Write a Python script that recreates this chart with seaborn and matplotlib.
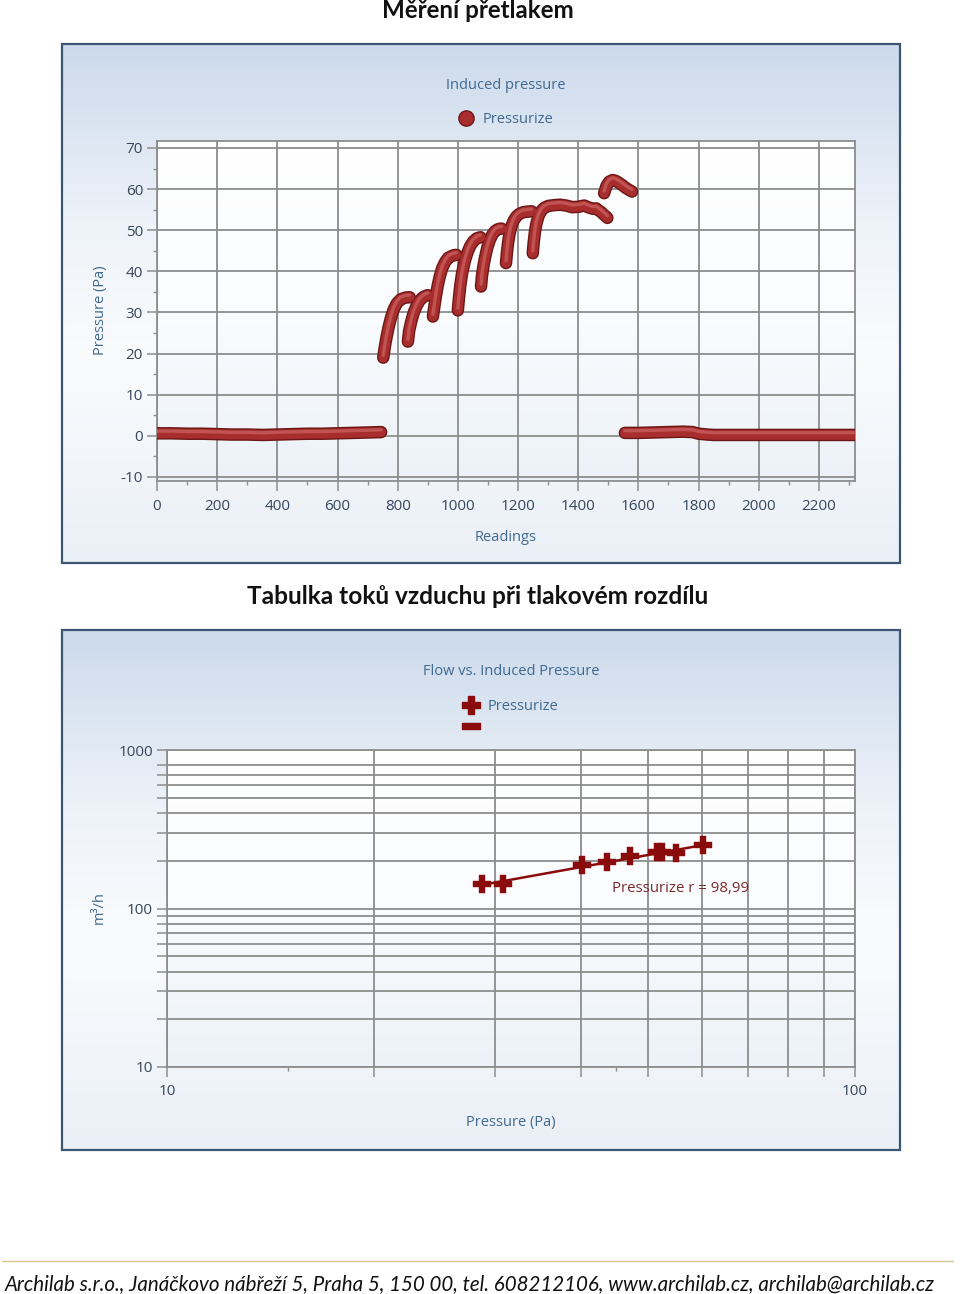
import numpy as np
import pandas as pd
import matplotlib
matplotlib.use("Agg")
import matplotlib.pyplot as plt
from matplotlib.lines import Line2D
from matplotlib.patches import Rectangle
from matplotlib.ticker import FixedLocator, FixedFormatter, NullLocator, NullFormatter, MultipleLocator
from matplotlib.transforms import ScaledTranslation
import seaborn as sns

# ---------------- data: induced pressure (top chart) ----------------
base_left_readings = [0, 50, 100, 150, 200, 250, 300, 350, 400, 450, 500, 550, 600, 650, 700, 745]
base_left_pa = [0.6, 0.6, 0.5, 0.5, 0.4, 0.3, 0.3, 0.2, 0.3, 0.4, 0.5, 0.5, 0.6, 0.7, 0.8, 0.9]

stepA_readings = [752, 757, 763, 770, 778, 787, 797, 810, 825, 840]
stepA_pa = [19.0, 21.5, 24.0, 26.5, 28.8, 30.8, 32.2, 33.2, 33.6, 33.7]

stepB_readings = [834, 838, 845, 853, 862, 872, 882, 892, 900]
stepB_pa = [22.9, 25.5, 27.8, 29.9, 31.5, 32.8, 33.6, 34.0, 34.2]

stepC_readings = [917, 922, 927, 933, 940, 948, 958, 968, 985, 995]
stepC_pa = [29.0, 31.5, 34.0, 36.5, 38.8, 40.8, 42.3, 43.3, 43.9, 44.0]

stepD_readings = [1000, 1003, 1008, 1014, 1022, 1031, 1040, 1050, 1062, 1075]
stepD_pa = [30.5, 33.0, 36.5, 39.5, 42.2, 44.4, 46.0, 47.2, 48.0, 48.3]

stepE_readings = [1077, 1080, 1085, 1091, 1098, 1106, 1115, 1125, 1135, 1145]
stepE_pa = [36.3, 38.8, 41.3, 43.6, 45.8, 47.6, 49.0, 49.9, 50.3, 50.4]

stepF_readings = [1160, 1163, 1167, 1172, 1178, 1186, 1195, 1205, 1218, 1230, 1245]
stepF_pa = [42.0, 44.5, 47.0, 49.2, 51.0, 52.4, 53.4, 54.0, 54.4, 54.5, 54.6]

stepG_readings = [1249, 1252, 1256, 1261, 1268, 1276, 1286, 1300, 1320, 1340, 1360,
                  1380, 1400, 1420, 1436, 1450, 1460, 1468, 1475, 1482, 1493, 1497]
stepG_pa = [44.4, 47.0, 49.5, 51.6, 53.4, 54.6, 55.4, 55.9, 56.1, 56.2, 56.0,
            55.6, 55.7, 56.0, 55.5, 55.2, 55.3, 54.8, 54.5, 54.0, 53.3, 53.0]

stepH_readings = [1486, 1494, 1503, 1514, 1525, 1536, 1546, 1558, 1569, 1579]
stepH_pa = [59.0, 60.8, 61.8, 62.2, 62.0, 61.5, 61.0, 60.3, 59.8, 59.4]

base_right_readings = [1555, 1600, 1650, 1700, 1750, 1780, 1800, 1830, 1850, 1900, 1950,
                       2000, 2050, 2100, 2150, 2200, 2250, 2300, 2316]
base_right_pa = [0.7, 0.7, 0.8, 0.9, 1.0, 0.9, 0.5, 0.3, 0.2, 0.2, 0.2,
                 0.2, 0.2, 0.2, 0.2, 0.2, 0.2, 0.2, 0.2]

top_yticks = [-10, 0, 10, 20, 30, 40, 50, 60, 70]
top_xticks = [0, 200, 400, 600, 800, 1000, 1200, 1400, 1600, 1800, 2000, 2200]

# ---------------- data: flow vs induced pressure (bottom chart) ----------------
flow_pressure_pa = [28.7, 30.8, 40.1, 43.6, 47.1, 51.5, 52.4, 55.0, 60.2]
flow_m3h = [143, 143, 187, 196, 213, 227, 227, 224, 250]
flow_r_label = "Pressurize r = 98,99"

bottom_xgrid = [10, 20, 30, 40, 50, 60, 70, 80, 90, 100]
bottom_xlabels = ["10", "", "", "", "", "", "", "", "", "100"]
bottom_ygrid = [10, 20, 30, 40, 50, 60, 70, 80, 90, 100, 200, 300, 400, 500, 600, 700, 800, 1000]
bottom_ylabels = ["10"] + [""] * 8 + ["100"] + [""] * 7 + ["1000"]

# ---------------- style ----------------
sns.set_theme(style="white")
plt.rcParams['font.family'] = ['Open Sans', 'DejaVu Sans']
plt.rcParams['axes.unicode_minus'] = False

W, H = 960, 1294
fig = plt.figure(figsize=(W / 100, H / 100), dpi=100)

GRID = '#8d8d8d'
TICKLAB = '#34475c'
AXLAB = '#41698f'
TUBE_DARK = '#6c1616'
TUBE = '#a82e2e'
TUBE_HI = '#d67272'
CROSS = '#8a0b0b'


def px_rect(l, t, r, b):
    return [l / W, 1 - b / H, (r - l) / W, (b - t) / H]


# background axes in pixel coordinates
bg = fig.add_axes([0, 0, 1, 1])
bg.set_xlim(0, W)
bg.set_ylim(H, 0)
bg.axis('off')


def vgrad(x0, y0, x1, y1, stops):
    t = np.linspace(0, 1, 256)
    pos = [s[0] for s in stops]
    cols = np.array([s[1] for s in stops], dtype=float) / 255.0
    arr = np.stack([np.interp(t, pos, cols[:, k]) for k in range(3)], axis=1)
    arr = arr[:, None, :]
    bg.imshow(arr, extent=(x0, x1, y1, y0), aspect='auto', origin='upper',
              interpolation='bilinear', zorder=0)


panel_stops = [(0.0, (204, 218, 236)), (0.35, (238, 243, 249)), (0.6, (250, 251, 253)),
               (1.0, (234, 240, 247))]
plot_stops = [(0.0, (255, 255, 255)), (0.5, (250, 252, 254)), (1.0, (236, 242, 248))]

P1 = (62, 44, 900, 563)
A1 = (157, 141, 855, 481)
P2 = (62, 630, 900, 1150)
A2 = (167, 750, 855, 1067)

for (l, t, r, b) in (P1, P2):
    vgrad(l, t, r, b, panel_stops)
    bg.add_patch(Rectangle((l, t), r - l, b - t, fill=False, ec='#3b5674', lw=1.6, zorder=2))
for (l, t, r, b) in (A1, A2):
    vgrad(l, t, r, b, plot_stops)

# footer rule
bg.plot([2, 953], [1261, 1261], color='#d3c88e', lw=1.0, zorder=2)
bg.set_xlim(0, W)
bg.set_ylim(H, 0)

# headings and footer
fig.text(478 / W, 1 - 11 / H, "Měření přetlakem", ha='center', va='center',
         fontsize=17.4, fontweight='bold', family=['Lato', 'DejaVu Sans'], color='#111111')
fig.text(478 / W, 1 - 597 / H, "Tabulka toků vzduchu při tlakovém rozdílu", ha='center',
         va='center', fontsize=17.6, fontweight='bold', family=['Lato', 'DejaVu Sans'],
         color='#111111')
fig.text(5 / W, 1 - 1284 / H,
         "Archilab s.r.o., Janáčkovo nábřeží 5, Praha 5, 150 00, tel. 608212106, "
         "www.archilab.cz, archilab@archilab.cz",
         ha='left', va='center', fontsize=14.8, style='italic',
         family=['Lato', 'DejaVu Sans'], color='#111111')

# ---------------- top chart ----------------
ax1 = fig.add_axes(px_rect(*A1))
ax1.set_facecolor('none')

segments = [
    (base_left_readings, base_left_pa),
    (stepA_readings, stepA_pa),
    (stepB_readings, stepB_pa),
    (stepC_readings, stepC_pa),
    (stepD_readings, stepD_pa),
    (stepE_readings, stepE_pa),
    (stepF_readings, stepF_pa),
    (stepG_readings, stepG_pa),
    (stepH_readings, stepH_pa),
    (base_right_readings, base_right_pa),
]
df = pd.concat([pd.DataFrame({'reading': r, 'pa': p, 'seg': i})
                for i, (r, p) in enumerate(segments)], ignore_index=True)

for lw, col, alpha, dy in [(9.0, TUBE_DARK, 1.0, 0.0), (7.0, TUBE, 1.0, 0.0), (2.4, TUBE_HI, 0.55, 1.6)]:
    n0 = len(ax1.lines)
    sns.lineplot(data=df, x='reading', y='pa', units='seg', estimator=None, sort=False,
                 color=col, lw=lw, alpha=alpha, ax=ax1, legend=False,
                 solid_capstyle='round', solid_joinstyle='round', zorder=3)
    if dy:
        for ln in ax1.lines[n0:]:
            ln.set_transform(ln.get_transform() + ScaledTranslation(0, dy / 72, fig.dpi_scale_trans))

ax1.set_xlim(0, 2320)
ax1.set_ylim(-11, 71.7)
ax1.xaxis.set_major_locator(FixedLocator(top_xticks))
ax1.yaxis.set_major_locator(FixedLocator(top_yticks))
ax1.xaxis.set_minor_locator(MultipleLocator(100))
ax1.yaxis.set_minor_locator(MultipleLocator(5))
ax1.grid(True, which='major', color=GRID, lw=1.3)
for s in ax1.spines.values():
    s.set_color(GRID)
    s.set_linewidth(1.3)
ax1.tick_params(axis='both', which='major', direction='out', length=7, width=1.1, color=GRID,
                labelcolor=TICKLAB, labelsize=11, bottom=True, left=True)
ax1.tick_params(axis='both', which='minor', direction='out', length=3, width=1.0, color=GRID,
                bottom=True, left=True)
ax1.tick_params(axis='x', which='major', pad=6)
ax1.tick_params(axis='y', which='major', pad=3)
ax1.set_xlabel("Readings", color=AXLAB, fontsize=10.5)
ax1.set_ylabel("Pressure (Pa)", color=AXLAB, fontsize=10.5)
ax1.xaxis.set_label_coords(0.5, -0.144)
ax1.yaxis.set_label_coords(-0.0702, 0.503)

ax1.text(0.5, 1.1618, "Induced pressure", transform=ax1.transAxes, ha='center', va='center',
         color=AXLAB, fontsize=10.5)
h_sphere = Line2D([], [], ls='', marker='o', markersize=11, markerfacecolor=TUBE,
                  markeredgecolor=TUBE_DARK, markeredgewidth=1.0)
leg1 = ax1.legend(handles=[h_sphere], labels=["Pressurize"], loc='center',
                  bbox_to_anchor=(0.5, 1.0618), frameon=False, fontsize=10.5,
                  labelcolor=AXLAB, handletextpad=0.6, handlelength=1.0, borderpad=0)

# ---------------- bottom chart ----------------
ax2 = fig.add_axes(px_rect(*A2))
ax2.set_facecolor('none')
ax2.set_xscale('log')
ax2.set_yscale('log')

lx = np.log10(flow_pressure_pa)
ly = np.log10(flow_m3h)
slope, icept = np.polyfit(lx, ly, 1)
fit_x = np.array([min(flow_pressure_pa), max(flow_pressure_pa)])
fit_y = 10 ** (icept + slope * np.log10(fit_x))
sns.lineplot(x=fit_x, y=fit_y, color=CROSS, lw=1.8, ax=ax2, zorder=3)
sns.scatterplot(x=flow_pressure_pa, y=flow_m3h, marker='P', s=170, color=CROSS,
                edgecolor=CROSS, linewidth=0.3, ax=ax2, zorder=4)
ax2.text(44.4, 134, flow_r_label, color='#7a2a2a', fontsize=10.8, ha='left', va='center',
         zorder=5)

ax2.set_xlim(10, 100)
ax2.set_ylim(10, 1000)
ax2.xaxis.set_major_locator(FixedLocator(bottom_xgrid))
ax2.xaxis.set_major_formatter(FixedFormatter(bottom_xlabels))
ax2.xaxis.set_minor_locator(FixedLocator([15, 45]))
ax2.xaxis.set_minor_formatter(NullFormatter())
ax2.yaxis.set_major_locator(FixedLocator(bottom_ygrid))
ax2.yaxis.set_major_formatter(FixedFormatter(bottom_ylabels))
ax2.yaxis.set_minor_locator(NullLocator())
ax2.grid(True, which='major', color=GRID, lw=1.3)
for s in ax2.spines.values():
    s.set_color(GRID)
    s.set_linewidth(1.3)
ax2.tick_params(axis='both', which='major', direction='out', length=7, width=1.1, color=GRID,
                labelcolor=TICKLAB, labelsize=11, bottom=True, left=True)
ax2.tick_params(axis='x', which='minor', direction='out', length=3, width=1.0, color=GRID,
                bottom=True)
ax2.tick_params(axis='x', which='major', pad=5)
ax2.tick_params(axis='y', which='major', pad=3)
ax2.set_xlabel("Pressure (Pa)", color=AXLAB, fontsize=10.5)
ax2.set_ylabel("m³/h", color=AXLAB, fontsize=10.5)
ax2.xaxis.set_label_coords(0.5, -0.151)
ax2.yaxis.set_label_coords(-0.0872, 0.5016)

ax2.text(0.5, 1.2492, "Flow vs. Induced Pressure", transform=ax2.transAxes, ha='center',
         va='center', color=AXLAB, fontsize=10.5)
minus_marker = [(-1, -0.38), (1, -0.38), (1, 0.38), (-1, 0.38), (-1, -0.38)]
h_cross = Line2D([], [], ls='', marker='P', markersize=13, markerfacecolor=CROSS,
                 markeredgecolor=CROSS)
h_minus = Line2D([], [], ls='', marker=minus_marker, markersize=13, markerfacecolor=CROSS,
                 markeredgecolor=CROSS)
leg2 = ax2.legend(handles=[h_cross, h_minus], labels=["Pressurize", " "], loc='center',
                  bbox_to_anchor=(0.5, 1.104), frameon=False, fontsize=10.5,
                  labelcolor=AXLAB, handletextpad=0.6, handlelength=1.0, borderpad=0,
                  labelspacing=0.45)

fig.savefig("out.png", dpi=100)
